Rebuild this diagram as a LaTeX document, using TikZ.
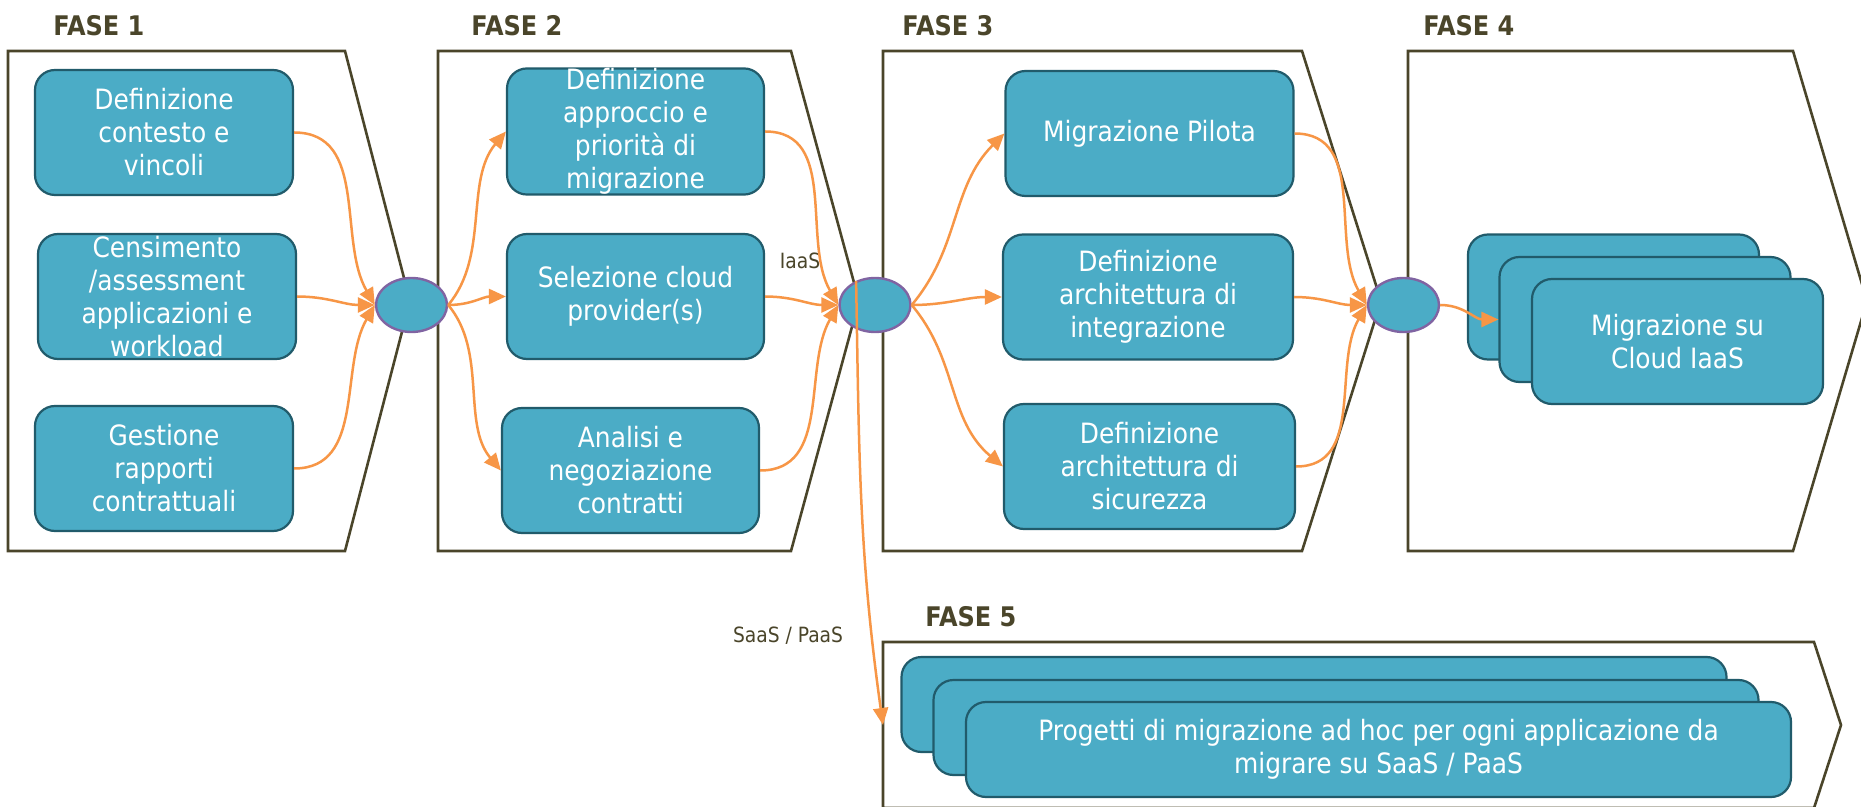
\documentclass[tikz,border=0pt]{standalone}
\usepackage{fontspec}
\setmainfont{DejaVu Sans}[FakeStretch=0.89]
\usetikzlibrary{arrows.meta,shapes.geometric}

\definecolor{fasecol}{HTML}{4A452A}
\definecolor{boxfill}{HTML}{4BACC6}
\definecolor{boxline}{HTML}{215B6B}
\definecolor{hubline}{HTML}{8064A2}
\definecolor{flowcol}{HTML}{F79646}

\tikzset{
  task/.style={draw=boxline, line width=1.1pt, fill=boxfill, rounded corners=10pt,
    text=white, align=center, minimum height=62.5pt, inner sep=0pt,
    font=\fontsize{14}{16.5}\selectfont},
  hub/.style={ellipse, draw=hubline, line width=1.2pt, fill=boxfill,
    minimum width=35.5pt, minimum height=27pt, inner sep=0pt},
  phase/.style={draw=fasecol, line width=1.3pt, fill=white},
  fase/.style={anchor=west, inner sep=0pt, text=fasecol, font=\fontsize{13.5}{16}\selectfont\bfseries},
  flowline/.style={draw=flowcol, line width=1.25pt, -{Triangle[length=8.5pt,width=7.5pt]}},
  tag/.style={inner sep=0pt, text=fasecol, font=\fontsize{10.5}{12}\selectfont}
}

\begin{document}
\begin{tikzpicture}[x=0.5pt,y=-0.5pt]
        \useasboundingbox (0,0) rectangle (1861,807);
        %% Phases
        \draw[phase] (8,51) -- (345,51) -- (410,301) -- (345,551) -- (8,551) -- cycle;
        \draw[phase] (438,51) -- (791,51) -- (859,301) -- (791,551) -- (438,551) -- cycle;
        \draw[phase] (883,51) -- (1302,51) -- (1381,301) -- (1302,551) -- (883,551) -- cycle;
        \draw[phase] (1408,51) -- (1793,51) -- (1867,301) -- (1793,551) -- (1408,551) -- cycle;
        \draw[phase] (883,642) -- (1814,642) -- (1841,725) -- (1814,808) -- (883,808) -- cycle;
        %% Labels
        \node[fase] (fase1) at (53,26)   {FASE 1};
        \node[fase] (fase2) at (471,26)  {FASE 2};
        \node[fase] (fase3) at (902,26)  {FASE 3};
        \node[fase] (fase4) at (1423,26) {FASE 4};
        \node[fase] (fase5) at (925,617) {FASE 5};
        \node[tag] (iaaslbl) at (800,261) {IaaS};
        \node[tag] (saaslbl) at (788,636) {SaaS / PaaS};
        %% Activities
        \node[task, minimum width=129pt] (contesto)   at (164,132.5) {Definizione\\contesto e\\vincoli};
        \node[task, minimum width=129pt] (censimento) at (167,296.5) {Censimento\\/assessment\\applicazioni e\\workload};
        \node[task, minimum width=129pt] (rapporti)   at (164,468.5) {Gestione\\rapporti\\contrattuali};
        \node[task, minimum width=128.5pt] (approccio) at (635.5,131.5) {Definizione\\approccio e\\priorità di\\migrazione};
        \node[task, minimum width=128.5pt] (provider)  at (635.5,296.5) {Selezione cloud\\provider(s)};
        \node[task, minimum width=128.5pt] (contratti) at (630.5,470.5) {Analisi e\\negoziazione\\contratti};
        \node[task, minimum width=144pt] (pilota)       at (1149.5,133.5) {Migrazione Pilota};
        \node[task, minimum width=145pt] (integrazione) at (1148,297) {Definizione\\architettura di\\integrazione};
        \node[task, minimum width=145.5pt] (sicurezza)  at (1149.5,466.5) {Definizione\\architettura di\\sicurezza};
        \node[task, minimum width=145.5pt] (iaas1) at (1613.5,297) {};
        \node[task, minimum width=145.5pt] (iaas2) at (1645,319.5) {};
        \node[task, minimum width=145.5pt] (iaas3) at (1677.5,341.5) {Migrazione su\\Cloud IaaS};
        \node[task, minimum width=412.5pt, minimum height=47.5pt] (saas1) at (1314,704.5) {};
        \node[task, minimum width=412.5pt, minimum height=47.5pt] (saas2) at (1346,727.5) {};
        \node[task, minimum width=412.5pt, minimum height=47.5pt] (saas3) at (1378.5,749.5)
             {Progetti di migrazione ad hoc per ogni applicazione da\\migrare su SaaS / PaaS};
        %% Hubs
        \node[hub] (hub1) at (411.5,305) {};
        \node[hub] (hub2) at (875,305)   {};
        \node[hub] (hub3) at (1403.5,305) {};
        \coordinate (fase5in) at (883,725);
        %% Flows
        \draw[flowline] (contesto.east)   to[out=0,in=120] (hub1.west);
        \draw[flowline] (censimento.east) to[out=0,in=180] (hub1.west);
        \draw[flowline] (rapporti.east)   to[out=0,in=240] (hub1.west);
        \draw[flowline] (hub1.east) to[out=50,in=230,looseness=0.9]  (approccio.west);
        \draw[flowline] (hub1.east) to[out=0,in=180]   (provider.west);
        \draw[flowline] (hub1.east) to[out=-50,in=130,looseness=0.9] (contratti.west);
        \draw[flowline] (approccio.east) to[out=0,in=120] (hub2.west);
        \draw[flowline] (provider.east)  to[out=0,in=180] (hub2.west);
        \draw[flowline] (contratti.east) to[out=0,in=240] (hub2.west);
        \draw[flowline] (hub2.east) to[out=50,in=225]  (pilota.west);
        \draw[flowline] (hub2.east) to[out=0,in=180]   (integrazione.west);
        \draw[flowline] (hub2.east) to[out=-50,in=140] (sicurezza.west);
        \draw[flowline] (pilota.east)       to[out=0,in=120] (hub3.west);
        \draw[flowline] (integrazione.east) to[out=0,in=180] (hub3.west);
        \draw[flowline] (sicurezza.east)    to[out=0,in=240] (hub3.west);
        \draw[flowline] (hub3.east) to[out=0,in=180] (iaas2.west);
        \draw[flowline] (hub2.128) to[out=-89,in=98] (fase5in);
\end{tikzpicture}
\end{document}
